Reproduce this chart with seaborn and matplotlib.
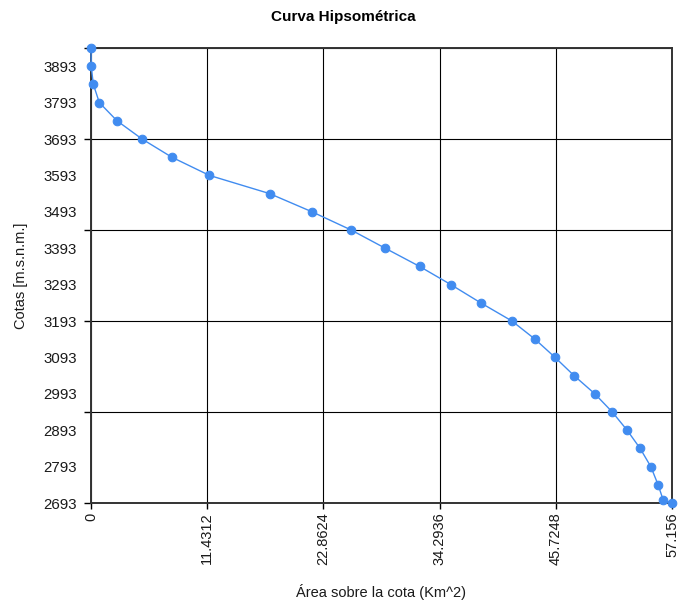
import matplotlib
matplotlib.use("Agg")
import matplotlib.pyplot as plt
from matplotlib.ticker import FixedLocator
import seaborn as sns
import pandas as pd

# Hypsometric curve: area above each elevation (km^2) vs elevation (m a.s.l.)
cotas = [3943, 3893, 3843, 3793, 3743, 3693, 3643, 3593, 3543, 3493,
         3443, 3393, 3343, 3293, 3243, 3193, 3143, 3093, 3043, 2993,
         2943, 2893, 2843, 2793, 2743, 2701, 2693]
areas = [0.0, 0.02, 0.23, 0.82, 2.56, 5.02, 7.95, 11.65, 17.57, 21.74,
         25.59, 28.94, 32.32, 35.40, 38.33, 41.41, 43.68, 45.65, 47.52, 49.56,
         51.28, 52.74, 54.02, 55.07, 55.79, 56.29, 57.156]

x_ticks = [0, 11.4312, 22.8624, 34.2936, 45.7248, 57.156]
x_tick_labels = ["0", "11.4312", "22.8624", "34.2936", "45.7248", "57.156"]
y_label_ticks = list(range(2693, 3894, 100))
y_grid_ticks = list(range(2693, 3944, 250))

df = pd.DataFrame({"area": areas, "cota": cotas})

sns.set_style("white")
plt.rcParams["font.family"] = ["Liberation Sans", "DejaVu Sans"]

fig = plt.figure(figsize=(6.78, 6.04), dpi=100)
ax = fig.add_axes([91 / 678, 1 - 503 / 604, 581 / 678, 455 / 604])

blue = "#418CF0"
sns.lineplot(data=df, x="area", y="cota", ax=ax, sort=False, estimator=None,
             color=blue, linewidth=1.0, marker="o", markersize=6.2,
             markeredgecolor=blue, markerfacecolor=blue, zorder=5, clip_on=False)

ax.set_xlim(0, 57.156)
ax.set_ylim(2693, 3943)

# x axis: ticks and grid at the same positions
ax.xaxis.set_major_locator(FixedLocator(x_ticks))
ax.set_xticklabels(x_tick_labels, rotation=90, fontsize=10.5, color="#1a1a1a")
ax.tick_params(axis="x", which="major", length=4, width=1, color="black",
               pad=3, bottom=True)

# y axis: labels every 100 m, grid (and tick marks) every 250 m
ax.yaxis.remove_overlapping_locs = False
ax.yaxis.set_major_locator(FixedLocator(y_label_ticks))
ax.set_yticklabels([str(v) for v in y_label_ticks], fontsize=10.8, color="#1a1a1a")
ax.yaxis.set_minor_locator(FixedLocator(y_grid_ticks))
ax.tick_params(axis="y", which="major", length=0, pad=10)
ax.tick_params(axis="y", which="minor", length=5, width=1, color="black", left=True)

ax.grid(False)
ax.grid(True, axis="x", which="major", color="black", linewidth=0.8)
ax.grid(True, axis="y", which="minor", color="black", linewidth=0.8)

for side, sp in ax.spines.items():
    sp.set_visible(True)
    sp.set_color("#333333")
    sp.set_linewidth(1.4)

ax.set_xlabel("Área sobre la cota (Km^2)", fontsize=10.5, color="#1a1a1a")
ax.xaxis.set_label_coords(0.5, -(584 - 503) / 455)
ax.set_ylabel("Cotas [m.s.n.m.]", fontsize=10.5, color="#1a1a1a")
ax.yaxis.label.set_va("center")
ax.yaxis.set_label_coords(-(91 - 21) / 581, 0.5)

fig.text(343 / 678, 1 - 17 / 604, "Curva Hipsométrica",
         family=["Liberation Sans Narrow", "Liberation Sans", "DejaVu Sans"],
         fontsize=11, fontweight="bold", ha="center", va="center", color="black")

fig.savefig("out.png", dpi=100, facecolor="white")
